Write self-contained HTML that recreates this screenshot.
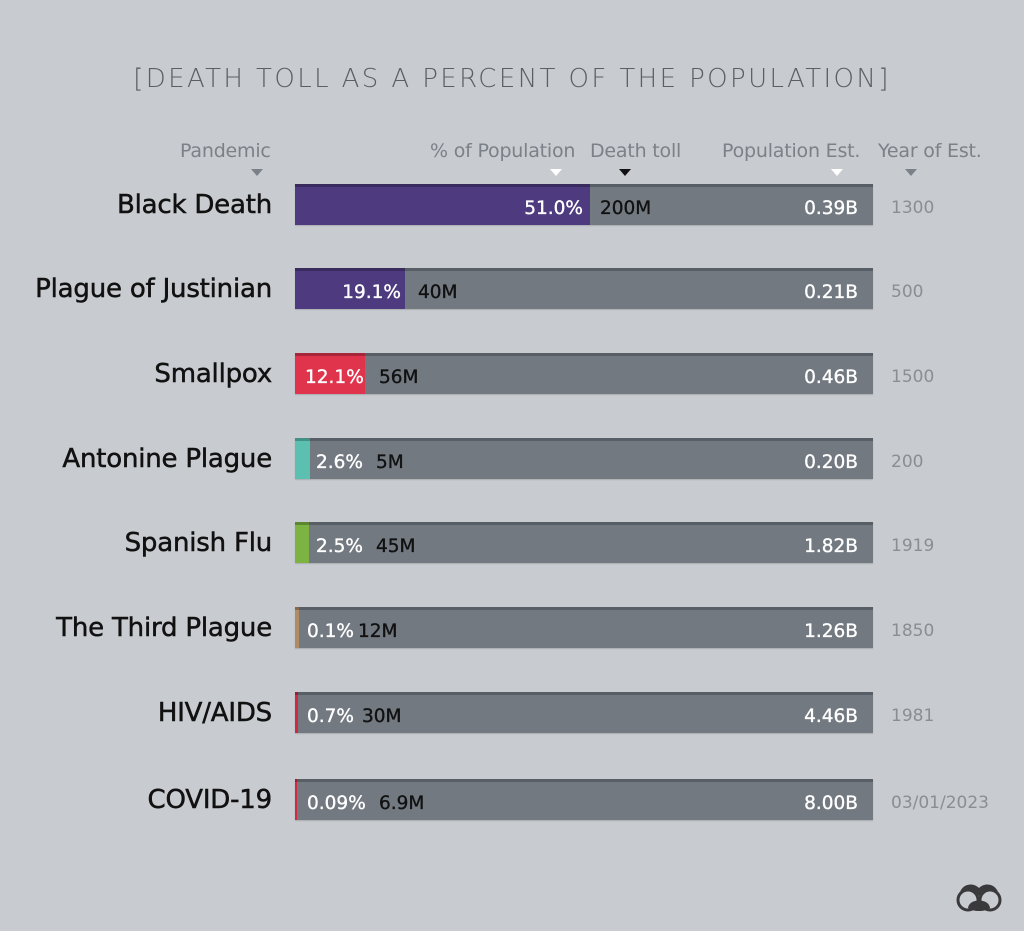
<!DOCTYPE html>
<html><head><meta charset="utf-8"><style>
body{margin:0;width:1024px;height:931px;background:#c8cbcf;font-family:"DejaVu Sans","Liberation Sans",sans-serif;position:relative;overflow:hidden}
.a{position:absolute;white-space:nowrap}
.t{left:0;width:1024px;text-align:center;top:64px;font-size:26px;letter-spacing:2.4px;color:#5a5f66;font-weight:300}
.h{top:140px;font-size:19px;color:#7b8188;letter-spacing:-0.2px}
.tri{width:0;height:0;border-left:6px solid transparent;border-right:6px solid transparent;border-top:7px solid #fff;top:169px}
.lab{right:752px;font-size:26px;color:#111;letter-spacing:-0.2px;-webkit-text-stroke:0.5px #111}
.bar{left:295px;width:578px;height:41px;background:#727981;box-shadow:inset 0 3px 0 #585e65, 0 1px 1px rgba(0,0,0,.15)}
.f{position:absolute;left:0;top:0;height:41px;box-shadow:inset 0 3px 0 rgba(0,0,0,.25)}
.v{font-size:18.5px;line-height:41px;-webkit-text-stroke:0.35px}
.w{color:#fff}.k{color:#111}
.y{left:891px;font-size:17px;color:#8a8e94;line-height:41px}
</style></head><body>
<div class="a t">[DEATH TOLL AS A PERCENT OF THE POPULATION]</div>
<div class="a h" style="left:180px">Pandemic</div>
<div class="a h" style="left:430px">% of Population</div>
<div class="a h" style="left:590px">Death toll</div>
<div class="a h" style="left:722px">Population Est.</div>
<div class="a h" style="left:878px">Year of Est.</div>
<div class="a tri" style="left:251px;border-top-color:#7b8188"></div>
<div class="a tri" style="left:550px"></div>
<div class="a tri" style="left:619px;border-top-color:#111"></div>
<div class="a tri" style="left:831px"></div>
<div class="a tri" style="left:905px;border-top-color:#7b8188"></div>

<div class="a lab" style="top:190px">Black Death</div>
<div class="a bar" style="top:184px"><div class="f" style="width:295px;background:#4e3a7e"></div></div>
<div class="a v w" style="top:188px;right:441px">51.0%</div><div class="a v k" style="top:188px;left:600px">200M</div>
<div class="a v w" style="top:188px;right:166px">0.39B</div><div class="a y" style="top:188px">1300</div>

<div class="a lab" style="top:274px">Plague of Justinian</div>
<div class="a bar" style="top:268px"><div class="f" style="width:110px;background:#4e3a7e"></div></div>
<div class="a v w" style="top:272px;right:623px">19.1%</div><div class="a v k" style="top:272px;left:418px">40M</div>
<div class="a v w" style="top:272px;right:166px">0.21B</div><div class="a y" style="top:272px">500</div>

<div class="a lab" style="top:359px">Smallpox</div>
<div class="a bar" style="top:353px"><div class="f" style="width:70px;background:#e0334c"></div></div>
<div class="a v w" style="top:357px;left:305px">12.1%</div><div class="a v k" style="top:357px;left:379px">56M</div>
<div class="a v w" style="top:357px;right:166px">0.46B</div><div class="a y" style="top:357px">1500</div>

<div class="a lab" style="top:444px">Antonine Plague</div>
<div class="a bar" style="top:438px"><div class="f" style="width:15px;background:#5cc0b1"></div></div>
<div class="a v w" style="top:442px;left:316px">2.6%</div><div class="a v k" style="top:442px;left:376px">5M</div>
<div class="a v w" style="top:442px;right:166px">0.20B</div><div class="a y" style="top:442px">200</div>

<div class="a lab" style="top:528px">Spanish Flu</div>
<div class="a bar" style="top:522px"><div class="f" style="width:14px;background:#7cb343"></div></div>
<div class="a v w" style="top:526px;left:316px">2.5%</div><div class="a v k" style="top:526px;left:376px">45M</div>
<div class="a v w" style="top:526px;right:166px">1.82B</div><div class="a y" style="top:526px">1919</div>

<div class="a lab" style="top:613px">The Third Plague</div>
<div class="a bar" style="top:607px"><div class="f" style="width:4px;background:#b08c64"></div></div>
<div class="a v w" style="top:611px;left:307px">0.1%</div><div class="a v k" style="top:611px;left:358px">12M</div>
<div class="a v w" style="top:611px;right:166px">1.26B</div><div class="a y" style="top:611px">1850</div>

<div class="a lab" style="top:698px">HIV/AIDS</div>
<div class="a bar" style="top:692px"><div class="f" style="width:3px;background:#d4283f"></div></div>
<div class="a v w" style="top:696px;left:307px">0.7%</div><div class="a v k" style="top:696px;left:362px">30M</div>
<div class="a v w" style="top:696px;right:166px">4.46B</div><div class="a y" style="top:696px">1981</div>

<div class="a lab" style="top:785px">COVID-19</div>
<div class="a bar" style="top:779px"><div class="f" style="width:2px;background:#d4283f"></div></div>
<div class="a v w" style="top:783px;left:307px">0.09%</div><div class="a v k" style="top:783px;left:379px">6.9M</div>
<div class="a v w" style="top:783px;right:166px">8.00B</div><div class="a y" style="top:783px">03/01/2023</div>

<svg class="a" style="left:955px;top:878px" width="48" height="40" viewBox="0 0 48 40">
<circle cx="13" cy="22" r="10" fill="none" stroke="#3a3a3c" stroke-width="3"/>
<circle cx="35" cy="22" r="10" fill="none" stroke="#3a3a3c" stroke-width="3"/>
<path d="M5 14 C8 6 18 4 24 10 C30 4 40 6 43 14 C36 10 30 12 24 18 C18 12 12 10 5 14 Z" fill="#3a3a3c"/>
<path d="M13 30 C14 20 34 20 35 30 C30 34 18 34 13 30 Z" fill="#3a3a3c"/>
</svg>
</body></html>
